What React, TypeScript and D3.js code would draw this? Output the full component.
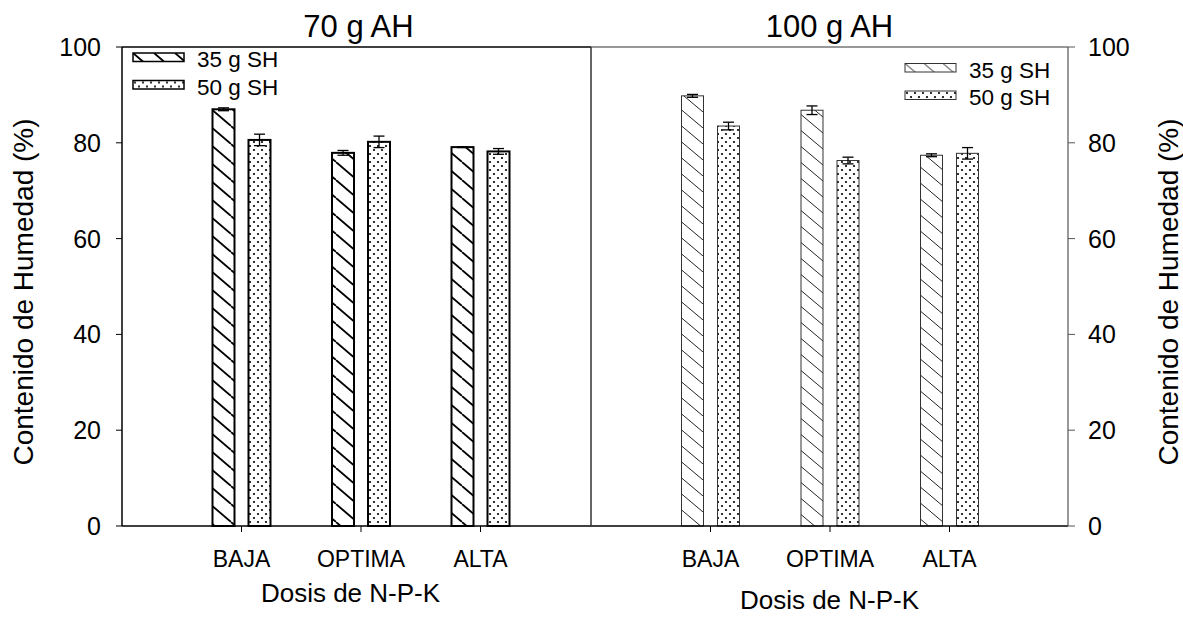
import React from 'react';
import * as d3 from 'd3';

// dosis N-P-K
const categories = ['BAJA', 'OPTIMA', 'ALTA'];
const seriesNames = ['35 g SH', '50 g SH'];
const yTicks = [0, 20, 40, 60, 80, 100];

// 70 g AH
const ah70Sh35 = [87.0, 77.9, 79.1];
const ah70Sh35Err = [0.3, 0.5, 0.1];
const ah70Sh50 = [80.6, 80.2, 78.2];
const ah70Sh50Err = [1.2, 1.2, 0.6];

// 100 g AH
const ah100Sh35 = [89.8, 86.8, 77.4];
const ah100Sh35Err = [0.3, 0.9, 0.3];
const ah100Sh50 = [83.5, 76.3, 77.8];
const ah100Sh50Err = [0.8, 0.7, 1.2];

const W = 1183, H = 619;
const top = 47, bottom = 526;
const font = '"Liberation Sans", Arial, sans-serif';

const y = d3.scaleLinear().domain([0, 100]).range([bottom, top]);
const sub = d3.scaleBand().domain(seriesNames).range([-29, 29]).paddingInner(0.389);

function Panel({ x0, x1, vals, title, heavy, side, legendX, legendY, labelY }) {
  const x = d3.scaleLinear().domain([0, 4]).range([x0, x0 + 478]);
  const sw = heavy ? 2 : 1;
  const stroke = heavy ? '#000' : '#333';
  const fills = heavy ? ['url(#hatchA)', 'url(#dotsA)'] : ['url(#hatchB)', 'url(#dotsB)'];
  return (
    <g>
      {vals.map((s, si) =>
        s.v.map((v, i) => {
          const cx = x(i + 1) + sub(seriesNames[si]) + sub.bandwidth() / 2;
          return (
            <g key={si + '-' + i}>
              <rect x={x(i + 1) + sub(seriesNames[si])} y={y(v)} width={sub.bandwidth()} height={y(0) - y(v)}
                fill={fills[si]} stroke={stroke} strokeWidth={sw} />
              <line x1={cx} x2={cx} y1={y(v + s.e[i])} y2={y(v - s.e[i])} stroke="#000" strokeWidth={1.3} />
              <line x1={cx - 5.5} x2={cx + 5.5} y1={y(v + s.e[i])} y2={y(v + s.e[i])} stroke="#000" strokeWidth={1.3} />
              <line x1={cx - 5.5} x2={cx + 5.5} y1={y(v - s.e[i])} y2={y(v - s.e[i])} stroke="#000" strokeWidth={1.3} />
            </g>
          );
        })
      )}
      {/* frame */}
      <line x1={x0} x2={x1} y1={top} y2={top} stroke={stroke} strokeWidth={heavy ? 1.5 : 1} />
      <line x1={x0} x2={x1} y1={bottom} y2={bottom} stroke="#000" strokeWidth={1.5} />
      {categories.map((c, i) => (
        <g key={c}>
          <line x1={x(i + 1)} x2={x(i + 1)} y1={bottom} y2={bottom + 6} stroke="#000" strokeWidth={1} />
          <text x={x(i + 1)} y={567} textAnchor="middle" fontSize={23} fontFamily={font}>{c}</text>
        </g>
      ))}
      <text x={(x0 + x1) / 2 + (heavy ? -6 : 0)} y={labelY} textAnchor="middle" fontSize={26} fontFamily={font}>Dosis de N-P-K</text>
      <text x={(x0 + x1) / 2 + (heavy ? 2 : 0)} y={37} textAnchor="middle" fontSize={31} fontFamily={font}>{title}</text>
      {/* y axis */}
      {side === 'left' ? (
        <g>
          <line x1={x0} x2={x0} y1={top} y2={bottom} stroke="#000" strokeWidth={1.5} />
          {yTicks.map(t => (
            <g key={t}>
              <line x1={x0 - 6} x2={x0} y1={y(t)} y2={y(t)} stroke="#000" strokeWidth={1} />
              <text x={101} y={y(t)} dy="0.36em" textAnchor="end" fontSize={25} fontFamily={font}>{t}</text>
            </g>
          ))}
          <text transform={`translate(33,292) rotate(-90)`} textAnchor="middle" fontSize={28} fontFamily={font}>Contenido de Humedad (%)</text>
        </g>
      ) : (
        <g>
          <line x1={x0} x2={x0} y1={top} y2={bottom} stroke="#333" strokeWidth={1.5} />
          <line x1={x1} x2={x1} y1={top} y2={bottom} stroke="#555" strokeWidth={1.2} />
          {yTicks.map(t => (
            <g key={t}>
              <line x1={x1} x2={x1 + 7} y1={y(t)} y2={y(t)} stroke="#555" strokeWidth={1} />
              <text x={1088} y={y(t)} dy="0.36em" textAnchor="start" fontSize={25} fontFamily={font}>{t}</text>
            </g>
          ))}
          <text transform={`translate(1178,292) rotate(-90)`} textAnchor="middle" fontSize={28} fontFamily={font}>Contenido de Humedad (%)</text>
        </g>
      )}
      {/* legend */}
      {seriesNames.map((n, i) => (
        <g key={n} transform={`translate(${legendX},${legendY + i * 27.5})`}>
          <rect x={0} y={0} width={51} height={8.5} fill={fills[i]} stroke={stroke} strokeWidth={sw === 2 ? 1.5 : 1} />
          <text x={64} y={14} fontSize={22.5} fontFamily={font}>{n}</text>
        </g>
      ))}
    </g>
  );
}

export default function App() {
  return (
    <svg width={W} height={H} style={{ position: 'absolute', left: 0, top: 0, background: '#fff' }}>
      <defs>
        <pattern id="hatchA" patternUnits="userSpaceOnUse" width={21} height={18}>
          <path d="M-21,0 L0,18 M0,0 L21,18 M21,0 L42,18" stroke="#000" strokeWidth={1.8} />
        </pattern>
        <pattern id="hatchB" patternUnits="userSpaceOnUse" width={19} height={16}>
          <path d="M-19,0 L0,16 M0,0 L19,16 M19,0 L38,16" stroke="#222" strokeWidth={1} />
        </pattern>
        <pattern id="dotsA" patternUnits="userSpaceOnUse" width={8} height={8}>
          <circle cx={2} cy={2} r={1.1} fill="#000" />
          <circle cx={6} cy={6} r={1.1} fill="#000" />
        </pattern>
        <pattern id="dotsB" patternUnits="userSpaceOnUse" width={8} height={8}>
          <circle cx={2} cy={2} r={1.1} fill="#000" />
          <circle cx={6} cy={6} r={1.1} fill="#000" />
        </pattern>
      </defs>
      <rect width={W} height={H} fill="#fff" />
      <Panel x0={122} x1={591} side="left" heavy title="70 g AH" legendX={133} legendY={53} labelY={602}
        vals={[{ v: ah70Sh35, e: ah70Sh35Err }, { v: ah70Sh50, e: ah70Sh50Err }]} />
      <Panel x0={591} x1={1068} side="right" heavy={false} title="100 g AH" legendX={905} legendY={63.5} labelY={609}
        vals={[{ v: ah100Sh35, e: ah100Sh35Err }, { v: ah100Sh50, e: ah100Sh50Err }]} />
    </svg>
  );
}
